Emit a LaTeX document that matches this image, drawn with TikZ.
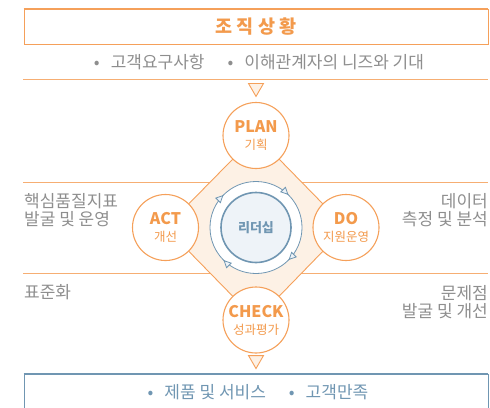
\documentclass[tikz,border=0pt]{standalone}
\usepackage{fontspec}
\setmainfont{Noto Sans CJK KR}
\usetikzlibrary{positioning,arrows.meta,decorations.markings,backgrounds}
\definecolor{naranja}{HTML}{F5A05A}
\definecolor{naranjatxt}{HTML}{F39A4C}
\definecolor{naranjafill}{HTML}{FDF1E5}
\definecolor{gris}{HTML}{8E8E8E}
\definecolor{azul}{HTML}{7096B2}
\definecolor{azulfill}{HTML}{EEF3F8}

\begin{document}
\begin{tikzpicture}[x=1pt, y=-1pt, font=\fontsize{17}{18}\selectfont,
      >={Triangle[length=8pt, width=7.5pt, fill=azulfill]},
      etapa/.style={circle, draw=naranja, fill=white, line width=1.1pt, minimum size=66pt,
                inner sep=0pt, align=center, text=naranjatxt},
      marco/.style={draw=naranja, line width=0.8pt, minimum width=464pt, minimum height=35pt, inner sep=0pt},
      lado/.style={text=gris, inner sep=0pt},
      sep/.style={draw=naranja!85, line width=0.8pt},
      tri/.style={draw=naranja, fill=naranjafill, line width=0.9pt}]
    \useasboundingbox (0,0) rectangle (490,407);
    % top banner
    \node[marco, fill=white] (ctx) at (256,26.5) {\fontsize{18.5}{20}\selectfont\bfseries\color{naranjatxt}조 직 상 황};
    \draw[naranja, line width=2pt] (ctx.north west) -- (ctx.north east);
    \node[lado] (need) at (259,62) {•\hspace{11pt}고객요구사항\hspace{23pt}•\hspace{11pt}이해관계자의 니즈와 기대};
    % cycle
    \node[etapa] (plan) at (256,135.5) {{\fontsize{16}{16}\selectfont\bfseries PLAN}\\[-1pt]{\fontsize{12.5}{14}\selectfont 기획}};
    \node[etapa] (do) at (346,227.5) {{\fontsize{16}{16}\selectfont\bfseries DO}\\[-1pt]{\fontsize{12.5}{14}\selectfont 지원운영}};
    \node[etapa] (chk) at (256,320) {{\fontsize{16}{16}\selectfont\bfseries CHECK}\\[-1pt]{\fontsize{12.5}{14}\selectfont 성과평가}};
    \node[etapa] (act) at (165.5,227.5) {{\fontsize{16}{16}\selectfont\bfseries ACT}\\[-1pt]{\fontsize{12.5}{14}\selectfont 개선}};
    \coordinate (c) at (256,227.5);
    \draw[azul, fill=white, line width=0.8pt, postaction={decorate}, decoration={markings,
          mark=at position 0.125 with {\arrow{>}}, mark=at position 0.375 with {\arrow{>}},
          mark=at position 0.625 with {\arrow{>}}, mark=at position 0.875 with {\arrow{>}}}]
      (c) circle[radius=46];
    \node[circle, draw=azul, fill=azulfill, line width=1.6pt, minimum size=70pt, text=azul,
          font=\fontsize{13}{15}\selectfont\bfseries] (lead) at (c) {리더십};
    \begin{scope}[on background layer]
      \draw[sep] (23,79) -- (488,79);
      \draw[sep] (23,182) -- (488,182);
      \draw[sep] (23,273) -- (488,273);
      \fill[naranjafill, draw=naranja, line width=0.9pt] (plan.center) -- (do.center) -- (chk.center) -- (act.center) -- cycle;
    \end{scope}
    % side labels
    \node[lado, anchor=west, align=left] (kpi) at (24,210.5) {핵심품질지표\\발굴 및 운영};
    \node[lado, anchor=west] (std) at (24,292) {표준화};
    \node[lado, anchor=east, align=right] (data) at (488,210) {데이터\\측정 및 분석};
    \node[lado, anchor=east, align=right] (prob) at (488,302.5) {문제점\\발굴 및 개선};
    % in / out
    \draw[tri] ([xshift=-7.5pt, yshift=18.5pt]plan.north) -- ([xshift=7.5pt, yshift=18.5pt]plan.north)
      -- ([yshift=5.5pt]plan.north) -- cycle;
    \node[marco, draw=azul, minimum height=44pt] (res) at (256,396) {};
    \draw[azul, line width=2.2pt] (res.north west) -- (res.north east);
    \draw[tri] ([xshift=-7.5pt, yshift=-2pt]chk.south) -- ([xshift=7.5pt, yshift=-2pt]chk.south)
      -- ([yshift=-15pt]chk.south) -- cycle;
    \node[lado, text=azul] (out) at (258,392) {•\hspace{11pt}제품 및 서비스\hspace{23pt}•\hspace{11pt}고객만족};
  \end{tikzpicture}
\end{document}
